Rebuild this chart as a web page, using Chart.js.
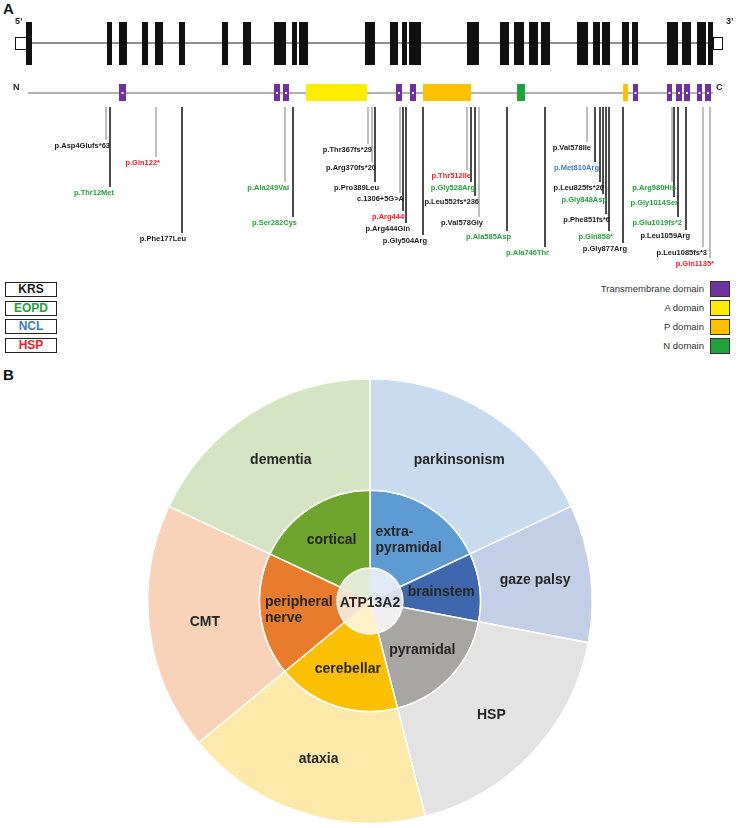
<!DOCTYPE html>
<html lang="en">
<head>
<meta charset="UTF-8">
<title>ATP13A2 variants and phenotypes</title>
<script src="https://cdn.jsdelivr.net/npm/chart.js"></script>
<style>
  body { margin: 0; background: #fff; font-family: 'Liberation Sans', Arial, sans-serif; }
  #page { position: relative; width: 738px; height: 828px; overflow: hidden; }
  .panel { position: absolute; left: 3px; font-weight: bold; font-size: 15px; color: #111; }
  #geneChart { position: absolute; left: 0; top: 0; }
  #sunChart { position: absolute; left: 0; top: 360px; }
  .pheno { position: absolute; left: 5px; width: 50px; height: 13px; border: 1.3px solid #222;
           font-weight: bold; font-size: 12px; line-height: 13px; text-align: center; }
  .domText { position: absolute; left: 480px; width: 224px; text-align: right; font-size: 9.5px; color: #333; }
  .domBox { position: absolute; left: 710px; width: 18px; height: 14px; border: 1px solid #333; }
</style>
</head>
<body>
<div id="page">
  <div class="panel" style="top:0px">A</div>
  <div class="panel" style="top:366px">B</div>
  <canvas id="geneChart" width="738" height="275"></canvas>
  <canvas id="sunChart" width="738" height="468"></canvas>
</div>

<script>
// ---- panel A data (positions along the gene diagram, arbitrary units 0-720) ----
const exons = [[16,22],[97,102],[109,117],[132,138],[145,153],[169,175],[212,218],[233,241],[264,276],
  [282,287],[289,298],[355,365],[380,388],[392,397],[399,411],[457,469],[490,499],[504,514],[519,528],
  [531,540],[567,578],[583,590],[592,600],[612,619],[622,628],[657,668],[672,681],[687,696],[698,703]];
const utrs = [[5,17],[703,713]];
const geneSpan = [17, 703];
const proteinSpan = [18, 703];

const domainNames = ['Transmembrane domain', 'A domain', 'P domain', 'N domain'];
const domainColors = ['#7030a0', '#ffec00', '#ffc000', '#1fa23a'];
const tmDomains = [[109,116],[264,270],[273,279],[386,392],[400,406],[623,628],[657,662],[666,672],[674,680],[687,692],[695,701]];
const aDomains = [[296,357]];
const pDomains = [[413,461],[613,618]];
const nDomains = [[507,515]];

const phenotypes = ['KRS', 'EOPD', 'NCL', 'HSP'];
const phenoColors = ['#1a1a1a', '#25a03c', '#3a7cc4', '#e3202a'];

const mutNames = ['p.Asp4Glufs*63','p.Thr12Met','p.Gln122*','p.Phe177Leu','p.Ala249Val','p.Ser282Cys',
  'p.Thr367fs*29','p.Arg370fs*20','p.Pro389Leu','c.1306+5G>A','p.Arg444*','p.Arg444Gln','p.Gly504Arg',
  'p.Thr512Ile','p.Gly528Arg','p.Leu552fs*236','p.Val578Gly','p.Ala585Asp','p.Ala746Thr','p.Val578Ile',
  'p.Met810Arg','p.Leu825fs*26','p.Gly848Asp','p.Phe851fs*6','p.Gln858*','p.Gly877Arg','p.Arg980His',
  'p.Gly1014Ser','p.Glu1019fs*2','p.Leu1059Arg','p.Leu1085fs*3','p.Gln1135*'];
const mutPheno = ['KRS','EOPD','HSP','KRS','EOPD','EOPD','KRS','KRS','KRS','KRS','HSP','KRS','KRS',
  'HSP','EOPD','KRS','KRS','EOPD','EOPD','KRS','NCL','KRS','EOPD','KRS','EOPD','KRS','EOPD',
  'EOPD','EOPD','KRS','KRS','HSP'];
const mutPos = [96,100,146,172,275,283,358,362,365,390,393,396,413,457,461,465,469,497,535,577,
  585,590,593,596,599,613,662,664,668,676,693,700];

// ---- panel A layout (vertical rows, px) ----
const rows = { exonTop: 22, exonBottom: 65, geneY: 43, utrTop: 37, utrBottom: 50,
  proteinY: 93, domTop: 84, domBottom: 101, mutTop: 107 };
const labelDepth = [146,193,163,239,188,223,150,168,188,199,217,229,241,176,188,202,223,237,253,148,
  168,188,200,220,237,249,188,203,223,236,253,264];
const lightLines = [0,2,4,6,7,9,13,16,19,26,30,31];

// ---- panel B data ----
const outerLabels = ['parkinsonism', 'gaze palsy', 'HSP', 'ataxia', 'CMT', 'dementia'];
const innerLabels = [['extra-', 'pyramidal'], 'brainstem', 'pyramidal', 'cerebellar', ['peripheral', 'nerve'], 'cortical'];
const centerLabel = 'ATP13A2';
const shares = [18, 10, 18, 18, 18, 18];
const outerColors = ['#c9dcef', '#c3cfe6', '#e3e3e3', '#fde9a9', '#f8d3ba', '#d5e4c2'];
const innerColors = ['#5f9bd3', '#3f67ad', '#a8a6a3', '#fbc002', '#e97b2c', '#6fa52f'];
const centerColors = ['#e0e9f5', '#d9e0ee', '#f0f0f0', '#fff1c8', '#fbe1d0', '#e1ecd5'];

// legends (HTML)
const page = document.getElementById('page');
phenotypes.forEach((p, i) => {
  const d = document.createElement('div');
  d.className = 'pheno';
  d.style.top = (282 + i * 18.5) + 'px';
  d.style.color = phenoColors[i];
  d.textContent = p;
  page.appendChild(d);
});
domainNames.forEach((n, i) => {
  const t = document.createElement('div');
  t.className = 'domText';
  t.style.top = (283 + i * 19) + 'px';
  t.textContent = n;
  page.appendChild(t);
  const b = document.createElement('div');
  b.className = 'domBox';
  b.style.top = (281 + i * 19) + 'px';
  b.style.background = domainColors[i];
  page.appendChild(b);
});

// line datasets: backbone, protein and one per variant
const lineSets = [
  { data: [{x: geneSpan[0], y: rows.geneY}, {x: geneSpan[1], y: rows.geneY}], borderColor: '#222', borderWidth: 1.2 },
  { data: [{x: proteinSpan[0], y: rows.proteinY}, {x: proteinSpan[1], y: rows.proteinY}], borderColor: '#666', borderWidth: 1.2 }
];
mutPos.forEach((x, i) => {
  lineSets.push({
    data: [{x: x, y: rows.mutTop}, {x: x, y: labelDepth[i] - 6}],
    borderColor: lightLines.includes(i) ? '#b5b5b5' : '#333',
    borderWidth: 1
  });
});

const geneDrawing = {
  id: 'geneDrawing',
  afterDatasetsDraw(chart) {
    const ctx = chart.ctx, xs = chart.scales.x, ys = chart.scales.y;
    const rect = (span, top, bottom, fill, stroke) => {
      const x0 = xs.getPixelForValue(span[0]), x1 = xs.getPixelForValue(span[1]);
      const y0 = ys.getPixelForValue(top), y1 = ys.getPixelForValue(bottom);
      ctx.fillStyle = fill;
      ctx.fillRect(x0, y0, x1 - x0, y1 - y0);
      if (stroke) { ctx.strokeStyle = stroke; ctx.lineWidth = 1; ctx.strokeRect(x0 + 0.5, y0 + 0.5, x1 - x0 - 1, y1 - y0 - 1); }
    };
    ctx.save();
    utrs.forEach(u => rect(u, rows.utrTop, rows.utrBottom, '#fff', '#111'));
    exons.forEach(e => rect(e, rows.exonTop, rows.exonBottom, '#111'));
    aDomains.forEach(d => rect(d, rows.domTop, rows.domBottom, domainColors[1]));
    pDomains.forEach(d => rect(d, rows.domTop, rows.domBottom, domainColors[2]));
    nDomains.forEach(d => rect(d, rows.domTop, rows.domBottom, domainColors[3]));
    tmDomains.forEach(d => {
      rect(d, rows.domTop, rows.domBottom, domainColors[0]);
      const cx = xs.getPixelForValue((d[0] + d[1]) / 2), cy = ys.getPixelForValue(rows.proteinY);
      ctx.fillStyle = '#fff';
      ctx.fillRect(cx - 1, cy - 1, 2, 2);
    });

    ctx.fillStyle = '#222';
    ctx.font = 'bold 9px "Liberation Sans", Arial, sans-serif';
    ctx.textBaseline = 'middle';
    ctx.textAlign = 'left';
    ctx.fillText("5\u2019", xs.getPixelForValue(utrs[0][0]), ys.getPixelForValue(rows.exonTop));
    ctx.fillText("3\u2019", xs.getPixelForValue(utrs[1][1]) + 3, ys.getPixelForValue(rows.exonTop));
    ctx.fillText('N', xs.getPixelForValue(proteinSpan[0]) - 15, ys.getPixelForValue(rows.proteinY) - 5);
    ctx.fillText('C', xs.getPixelForValue(proteinSpan[1]) + 3, ys.getPixelForValue(rows.proteinY) - 5);

    ctx.font = 'bold 7.5px "Liberation Sans", Arial, sans-serif';
    ctx.textAlign = 'right';
    mutNames.forEach((n, i) => {
      ctx.fillStyle = phenoColors[phenotypes.indexOf(mutPheno[i])];
      ctx.fillText(n, xs.getPixelForValue(mutPos[i]) + 4, ys.getPixelForValue(labelDepth[i]));
    });
    ctx.restore();
  }
};

new Chart(document.getElementById('geneChart'), {
  type: 'scatter',
  data: { datasets: lineSets.map(s => Object.assign({ showLine: true, pointRadius: 0, fill: false }, s)) },
  options: {
    responsive: false,
    animation: false,
    devicePixelRatio: 1,
    layout: { padding: { left: 10, right: 8, top: 0, bottom: 0 } },
    scales: {
      x: { type: 'linear', min: 0, max: 720, display: false },
      y: { type: 'linear', min: 0, max: 275, reverse: true, display: false }
    },
    plugins: { legend: { display: false }, tooltip: { enabled: false } },
    events: []
  },
  plugins: [geneDrawing]
});

// ---- panel B ----
const sunLabels = {
  id: 'sunLabels',
  afterDatasetsDraw(chart) {
    const ctx = chart.ctx;
    ctx.save();
    ctx.font = 'bold 14px "Liberation Sans", Arial, sans-serif';
    ctx.fillStyle = '#262626';
    ctx.textBaseline = 'middle';
    [outerLabels, innerLabels].forEach((labels, di) => {
      chart.getDatasetMeta(di).data.forEach((arc, i) => {
        const p = arc.tooltipPosition();
        const lines = [].concat(labels[i]);
        if (lines.length === 1) {
          ctx.textAlign = 'center';
          ctx.fillText(lines[0], p.x, p.y);
        } else {
          const w = Math.max(...lines.map(t => ctx.measureText(t).width));
          ctx.textAlign = 'left';
          lines.forEach((t, k) => ctx.fillText(t, p.x - w / 2, p.y + (k - (lines.length - 1) / 2) * 16));
        }
      });
    });
    const c = chart.getDatasetMeta(2).data[0];
    ctx.textAlign = 'center';
    ctx.fillText(centerLabel, c.x, c.y + 2);
    ctx.restore();
  }
};

new Chart(document.getElementById('sunChart'), {
  type: 'doughnut',
  data: {
    labels: outerLabels,
    datasets: [
      { data: shares, backgroundColor: outerColors, borderColor: '#fff', borderWidth: 1.5, weight: 112 },
      { data: shares, backgroundColor: innerColors, borderColor: '#fff', borderWidth: 1.5, weight: 78 },
      { data: shares, backgroundColor: centerColors, borderColor: centerColors, borderWidth: 0, weight: 33 }
    ]
  },
  options: {
    responsive: false,
    animation: false,
    devicePixelRatio: 1,
    cutout: 0,
    layout: { padding: { left: 147, right: 145, top: 18, bottom: 4 } },
    plugins: { legend: { display: false }, tooltip: { enabled: false } },
    events: []
  },
  plugins: [sunLabels]
});
</script>
</body>
</html>
